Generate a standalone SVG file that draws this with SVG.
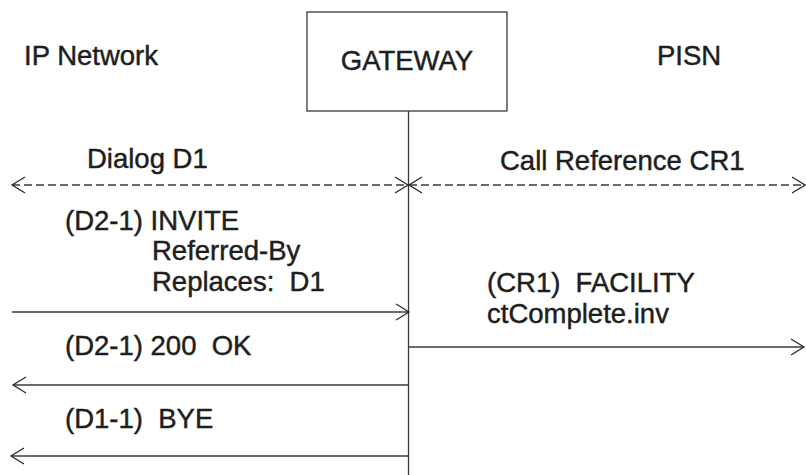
<svg xmlns="http://www.w3.org/2000/svg" width="806" height="475" viewBox="0 0 806 475">
<style>
text { font-family: "Liberation Sans", Arial, sans-serif; font-size: 27.5px; fill: #1e1e1e; stroke: #1e1e1e; stroke-width: 0.45; white-space: pre; }
.ln { stroke: #3a3a3a; stroke-width: 1.3; fill: none; }
.dash { stroke-dasharray: 8 4; }
</style>
<defs>
<marker id="ah" markerUnits="userSpaceOnUse" markerWidth="16" markerHeight="20" viewBox="-1 -10 16 20" refX="13" refY="0" orient="auto-start-reverse">
<path d="M0,-8 L13,0 L0,8" fill="none" stroke="#2a2a2a" stroke-width="1.3"/>
</marker>
</defs>
<rect width="806" height="475" fill="#ffffff"/>
<g id="ip-network"><text x="24" y="65">IP Network</text></g>
<g id="gateway">
<rect x="307" y="12" width="200" height="99" fill="#ffffff" stroke="#3a3a3a" stroke-width="1.3"/>
<text x="407" y="70" text-anchor="middle">GATEWAY</text>
</g>
<g id="pisn"><text x="657" y="65">PISN</text></g>
<g id="lifeline"><line class="ln" x1="408.5" y1="111" x2="408.5" y2="475"/></g>
<g id="labels">
<text x="87" y="168">Dialog D1</text>
<text x="500" y="170">Call Reference CR1</text>
<text x="65" y="230">(D2-1) INVITE</text>
<text x="152" y="260">Referred-By</text>
<text x="152" y="291">Replaces:  D1</text>
<text x="487" y="292">(CR1)  FACILITY</text>
<text x="487" y="323">ctComplete.inv</text>
<text x="65" y="355">(D2-1) 200  OK</text>
<text x="65" y="428">(D1-1)  BYE</text>
</g>
<g id="connectors">
<line class="ln dash" x1="12" y1="185" x2="408" y2="185" marker-start="url(#ah)" marker-end="url(#ah)"/>
<line class="ln dash" x1="409" y1="185" x2="805" y2="185" marker-start="url(#ah)" marker-end="url(#ah)"/>
<line class="ln" x1="12" y1="312" x2="409" y2="312" marker-end="url(#ah)"/>
<line class="ln" x1="408" y1="347" x2="804" y2="347" marker-end="url(#ah)"/>
<line class="ln" x1="408" y1="385" x2="13" y2="385" marker-end="url(#ah)"/>
<line class="ln" x1="408" y1="456" x2="11" y2="456" marker-end="url(#ah)"/>
</g>
</svg>
